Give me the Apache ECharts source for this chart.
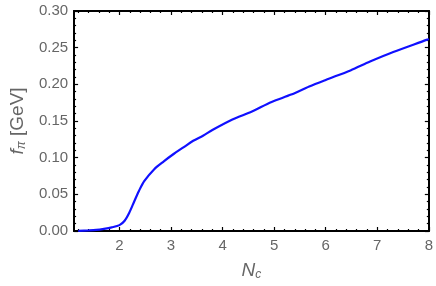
<!DOCTYPE html>
<html>
<head>
<meta charset="utf-8">
<script src="https://cdn.jsdelivr.net/npm/echarts@6/dist/echarts.min.js"></script>
<style>
html,body{margin:0;padding:0;background:#fff;}
#c{width:436px;height:286px;}
</style>
</head>
<body>
<div id="c"></div>
<script>
// Data
const ncValues = [1.2, 1.4, 1.55, 1.7, 1.85, 2.0, 2.1, 2.19, 2.29, 2.38, 2.48, 2.67, 2.86, 3.05, 3.24, 3.43, 3.62, 3.81, 4.19, 4.57, 4.95, 5.33, 5.68, 6.0, 6.48, 6.86, 7.31, 7.97, 8.0];
const fpiValues = [0.0002, 0.0008, 0.0015, 0.003, 0.005, 0.008, 0.014, 0.025, 0.041, 0.055, 0.068, 0.084, 0.095, 0.105, 0.114, 0.123, 0.130, 0.138, 0.152, 0.163, 0.176, 0.186, 0.197, 0.206, 0.219, 0.231, 0.244, 0.261, 0.262];
const xMajorTicks = [2, 3, 4, 5, 6, 7, 8];
const xMinorTicks = [1.2, 1.4, 1.6, 1.8, 2.2, 2.4, 2.6, 2.8, 3.2, 3.4, 3.6, 3.8, 4.2, 4.4, 4.6, 4.8, 5.2, 5.4, 5.6, 5.8, 6.2, 6.4, 6.6, 6.8, 7.2, 7.4, 7.6, 7.8];
const xRange = [1.12, 8];
const yRange = [0, 0.30];
const yStep = 0.05;

const seriesData = ncValues.map((x, i) => [x, fpiValues[i]]);
const labelColor = '#666666';
const fontFamily = 'Liberation Sans, Arial, sans-serif';

function xAxisDef(pos, ticks, len, showLabel, extra) {
  return Object.assign({
    type: 'value', position: pos, min: xRange[0], max: xRange[1],
    axisLine: { show: true, onZero: false, lineStyle: { color: '#000', width: 2 } },
    axisTick: { show: true, inside: true, length: len, customValues: ticks, lineStyle: { color: '#000', width: 1.2 } },
    axisLabel: { show: showLabel, customValues: ticks, color: labelColor, fontSize: 15, fontFamily: fontFamily, margin: 7 },
    splitLine: { show: false }
  }, extra || {});
}
function yAxisDef(pos, showLabel, extra) {
  return Object.assign({
    type: 'value', position: pos, min: yRange[0], max: yRange[1], interval: yStep,
    axisLine: { show: true, onZero: false, lineStyle: { color: '#000', width: 2 } },
    axisTick: { show: true, inside: true, length: 4, lineStyle: { color: '#000', width: 1.2 } },
    minorTick: { show: true, splitNumber: 5, length: 2, lineStyle: { color: '#000', width: 1.2 } },
    axisLabel: { show: showLabel, color: labelColor, fontSize: 15, fontFamily: fontFamily, margin: 6, formatter: v => v.toFixed(2) },
    splitLine: { show: false }, minorSplitLine: { show: false }
  }, extra || {});
}

const nameRich = {
  i: { fontStyle: 'italic', fontSize: 19, color: labelColor, fontFamily: fontFamily },
  r: { fontSize: 19, color: labelColor, fontFamily: fontFamily },
  sub: { fontStyle: 'italic', fontSize: 12, color: labelColor, fontFamily: fontFamily, padding: [9, 0, 0, 0] }
};

const chart = echarts.init(document.getElementById('c'), null, { renderer: 'canvas' });
chart.setOption({
  animation: false,
  backgroundColor: '#fff',
  grid: { left: 69, right: 6, top: 11, bottom: 54, containLabel: false },
  xAxis: [
    xAxisDef('bottom', xMajorTicks, 4, true, {
      name: '{i|N}{sub|c}', nameLocation: 'middle', nameGap: 29,
      nameTextStyle: { rich: nameRich }
    }),
    xAxisDef('top', xMajorTicks, 4, false),
    xAxisDef('bottom', xMinorTicks, 2, false),
    xAxisDef('top', xMinorTicks, 2, false)
  ],
  yAxis: [
    yAxisDef('left', true, {
      name: '{i|f}{sub|π}{r| [GeV]}', nameLocation: 'middle', nameGap: 45, nameRotate: 90,
      nameTextStyle: { fontSize: 19, color: labelColor, fontFamily: fontFamily, rich: nameRich }
    }),
    yAxisDef('right', false)
  ],
  series: [{
    type: 'line', xAxisIndex: 0, yAxisIndex: 0, data: seriesData,
    showSymbol: false, smooth: 0.3,
    lineStyle: { color: '#1010ff', width: 2.2 }
  }]
});
</script>
</body>
</html>
